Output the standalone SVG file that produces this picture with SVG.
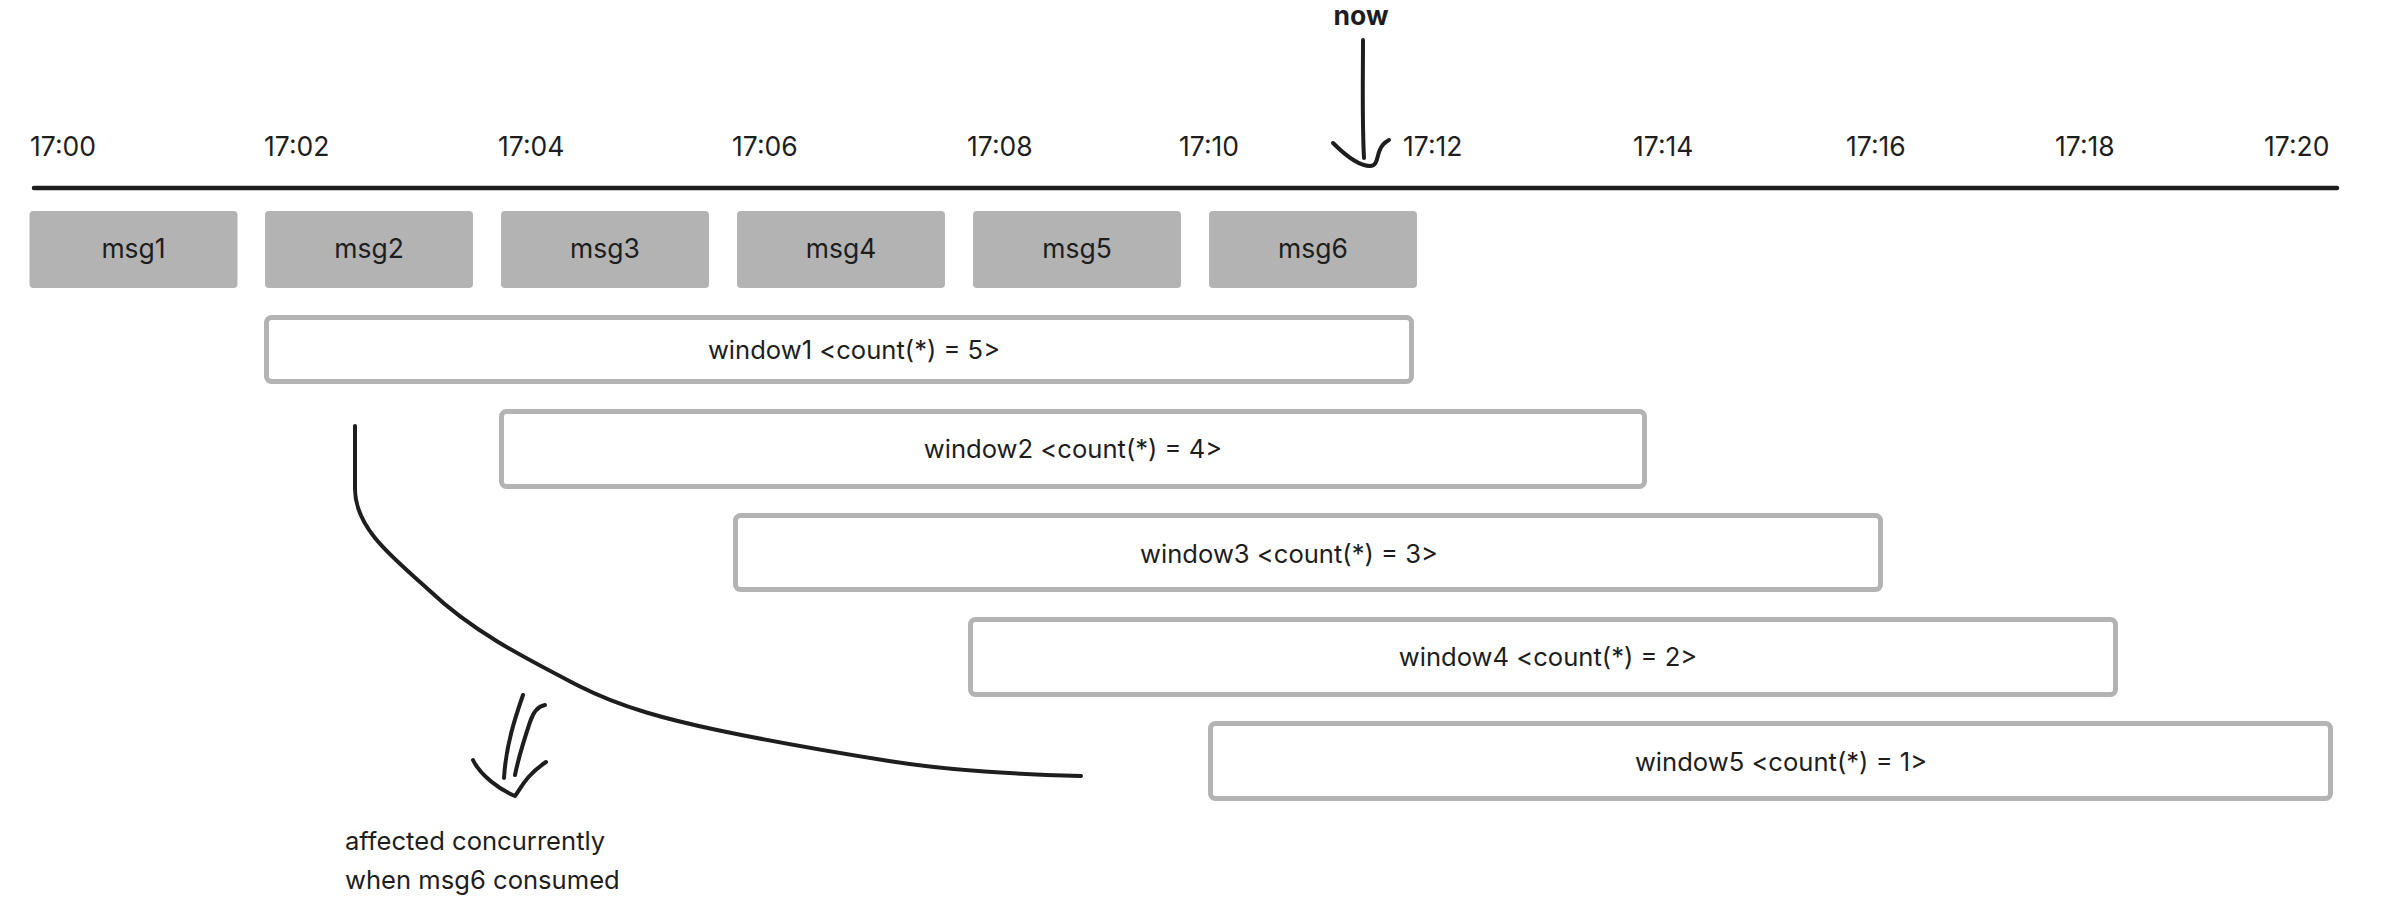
<svg xmlns="http://www.w3.org/2000/svg" width="2394" height="912" viewBox="0 0 2394 912">
<style>
text{font-family:Inter,"Liberation Sans",sans-serif;fill:#1e1e1e;font-size:25.6px}
.tm{font-size:26.5px}
.tl{text-anchor:start}
.c{text-anchor:middle}
.msg rect{fill:#b3b3b3}
.win rect{fill:#fff;stroke:#b3b3b3;stroke-width:5}
.ink{fill:none;stroke:#1e1e1e;stroke-width:4;stroke-linecap:round;stroke-linejoin:round}
</style>
<rect width="2394" height="912" fill="#fff"/>
<g id="timeline">
<line x1="34" y1="188" x2="2337" y2="188" stroke="#1e1e1e" stroke-width="4.5" stroke-linecap="round"/>
<text class="tl tm" x="30" y="156">17:00</text>
<text class="tl tm" x="264" y="156">17:02</text>
<text class="tl tm" x="498" y="156">17:04</text>
<text class="tl tm" x="732" y="156">17:06</text>
<text class="tl tm" x="967" y="156">17:08</text>
<text class="tl tm" x="1179" y="156">17:10</text>
<text class="tl tm" x="1403" y="156">17:12</text>
<text class="tl tm" x="1633" y="156">17:14</text>
<text class="tl tm" x="1846" y="156">17:16</text>
<text class="tl tm" x="2055" y="156">17:18</text>
<text class="tl tm" x="2264" y="156">17:20</text>
</g>
<g id="now">
<text class="c tm" x="1361" y="25" font-weight="bold">now</text>
</g>
<g id="msg1" class="msg"><rect x="29.5" y="211" width="208" height="77" rx="4"/><text class="c tm" x="133.5" y="258">msg1</text></g>
<g id="msg2" class="msg"><rect x="265" y="211" width="208" height="77" rx="4"/><text class="c tm" x="369" y="258">msg2</text></g>
<g id="msg3" class="msg"><rect x="501" y="211" width="208" height="77" rx="4"/><text class="c tm" x="605" y="258">msg3</text></g>
<g id="msg4" class="msg"><rect x="737" y="211" width="208" height="77" rx="4"/><text class="c tm" x="841" y="258">msg4</text></g>
<g id="msg5" class="msg"><rect x="973" y="211" width="208" height="77" rx="4"/><text class="c tm" x="1077" y="258">msg5</text></g>
<g id="msg6" class="msg"><rect x="1209" y="211" width="208" height="77" rx="4"/><text class="c tm" x="1313" y="258">msg6</text></g>
<g id="window1" class="win"><rect x="266.5" y="317.5" width="1145" height="64" rx="5"/><text class="c" x="854" y="359">window1 &lt;count(*) = 5&gt;</text></g>
<g id="window2" class="win"><rect x="501.5" y="411.5" width="1143" height="75" rx="5"/><text class="c" x="1073" y="458">window2 &lt;count(*) = 4&gt;</text></g>
<g id="window3" class="win"><rect x="735.5" y="515.5" width="1145" height="74" rx="5"/><text class="c" x="1289" y="563">window3 &lt;count(*) = 3&gt;</text></g>
<g id="window4" class="win"><rect x="970.5" y="619.5" width="1145" height="75" rx="5"/><text class="c" x="1548" y="666">window4 &lt;count(*) = 2&gt;</text></g>
<g id="window5" class="win"><rect x="1210.5" y="723.5" width="1120" height="75" rx="5"/><text class="c" x="1781" y="771">window5 &lt;count(*) = 1&gt;</text></g>
<g id="note">
<text class="tl" x="345" y="850">affected concurrently</text>
<text class="tl" x="345" y="889">when msg6 consumed</text>
</g>
<g id="connectors">
<path class="ink" d="M1363,40 C1363,80 1362,120 1364,158"/>
<path class="ink" d="M1333,143 C1345,155 1358,166 1370,166 C1377,166 1377,158 1379,152 C1381,146 1385,142 1389,140"/>
<path class="ink" d="M355,426 L355,489 C355,531 399,562 430,591 C473,632 527,659 579,686 C622,708 670,720 717,730 C774,742 832,752 889,761 C952,771 1017,774 1081,776"/>
<path class="ink" d="M523,695 C515,718 506,745 504,778"/>
<path class="ink" d="M545,705 C538,706 533,713 530,722 C524,740 518,760 515,775"/>
<path class="ink" d="M473,760 C480,775 500,790 515,796 C520,790 525,776 546,762"/>
</g>
</svg>
